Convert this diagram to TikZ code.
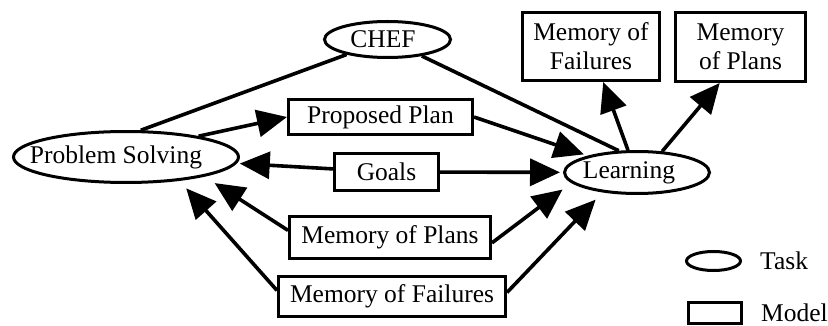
\documentclass[tikz,border=0pt]{standalone}
\usepackage{fontspec}
\setmainfont{Liberation Serif}
\usetikzlibrary{shapes.geometric,arrows.meta}
\begin{document}
\begin{tikzpicture}[x=1pt,y=-1pt,
  every node/.style={font=\fontsize{25.5}{29}\selectfont},
  task/.style={draw, ellipse, line width=3pt, inner sep=0pt},
  model/.style={draw, rectangle, line width=3pt, inner sep=0pt, align=center},
  lbl/.style={inner sep=0pt, align=center},
  link/.style={line width=3.6pt},
  flow/.style={line width=3.6pt, -{Triangle[length=30pt,width=27pt]}}
]
\useasboundingbox (0,0) rectangle (828,326);

% tasks (ellipses) with their captions
\node[task, minimum width=225pt, minimum height=51pt] (ps) at (126,157) {};
\node[lbl] (pst) at (116,157) {Problem Solving};
\node[task, minimum width=126pt, minimum height=36pt] (chef) at (387.5,39.5) {};
\node[lbl] (cheft) at (383,39.5) {CHEF};
\node[task, minimum width=145pt, minimum height=42pt] (learn) at (637,172.5) {};
\node[lbl] (learnt) at (629,172.5) {Learning};

% models (boxes)
\node[model, minimum width=184pt, minimum height=35pt] (pp) at (380.5,117) {Proposed Plan};
\node[model, minimum width=104pt, minimum height=37pt] (goals) at (386.5,172) {Goals};
\node[model, minimum width=201pt, minimum height=42pt] (mop) at (390,237.5) {Memory of Plans};
\node[model, minimum width=227pt, minimum height=40pt] (mof) at (392,296.5) {Memory of Failures};
\node[model, minimum width=137pt, minimum height=68pt] (mofT) at (591,46.5) {Memory of\\Failures};
\node[model, minimum width=130pt, minimum height=69pt] (mopT) at (740.5,47) {Memory\\of Plans};

% key
\node[task, minimum width=54pt, minimum height=19pt] (keytask) at (713.5,261) {};
\node[lbl, anchor=west] (keytaskt) at (760,261) {Task};
\node[model, minimum width=53pt, minimum height=21pt] (keymodel) at (715,312.5) {};
\node[lbl, anchor=west] (keymodelt) at (761,313) {Model};

% connectors
\draw[link] (ps.61) -- (chef);
\draw[link] (chef) -- (learn.130);
\draw[flow] (ps.16) -- (pp.west);
\draw[flow, shorten >=4pt] (pp.east) -- (learn);
\draw[flow, shorten >=3pt] (goals) -- (ps);
\draw[flow, shorten >=3pt] (goals) -- (learn);
\draw[flow, shorten >=12pt] (mop.176) -- (ps.-14);
\draw[flow, shorten >=10pt] (mof.177) -- (ps.-24);
\draw[flow, shorten >=11pt] (mop.-3) -- (learn.189);
\draw[flow, shorten >=10pt] (mof.2) -- (learn.210);
\draw[flow] (learn.112) -- (mofT.-71);
\draw[flow] (learn.40) -- (mopT.240);
\end{tikzpicture}
\end{document}
